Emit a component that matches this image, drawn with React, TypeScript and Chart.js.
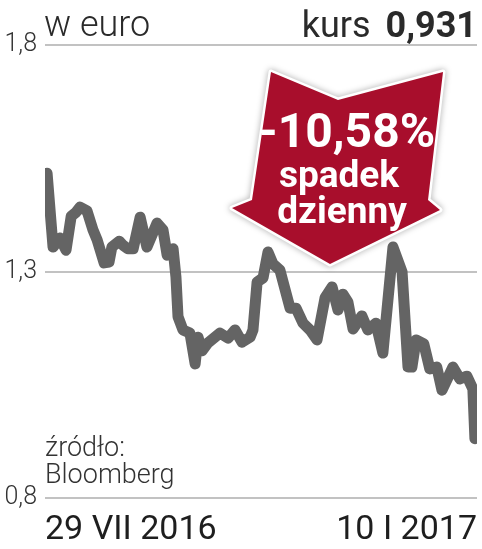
import React, { useEffect, useRef } from "react";
import { Chart, registerables } from "chart.js";

Chart.register(...registerables);

// days since 29 VII 2016
const days = [
  0, 2.3, 5, 7.3, 9.3, 11.2, 12.7, 15.4, 17.7, 19.3, 22, 23.9, 25, 27.8, 29.3, 31.2, 33.2, 35.9, 38.5, 40.5,
  42.4, 44.7, 46.3, 48.6, 49.7, 50.5, 52.4, 55.1, 57.1, 58.2, 59.8, 62, 66.7, 69.8, 72.5, 75.2, 78.3, 79.4, 81, 83.3,
  85.2, 87.1, 89.8, 93.7, 96, 98.7, 101.4, 104.1, 107.2, 109.9, 112.2, 114.1, 116, 118, 121.4, 123.7, 126.8, 129.5, 133.4, 136.9,
  139.2, 140.7, 142.3, 145.3, 147.6, 150.3, 152.3, 156.5, 159.2, 161.9, 164.2, 165,
];
const rates = [
  1.517, 1.354, 1.374, 1.347, 1.422, 1.431, 1.442, 1.434, 1.392, 1.37, 1.319, 1.321, 1.354, 1.367, 1.358, 1.35, 1.35, 1.42, 1.354, 1.381,
  1.407, 1.392, 1.336, 1.35, 1.288, 1.2, 1.171, 1.164, 1.096, 1.155, 1.125, 1.142, 1.164, 1.153, 1.171, 1.144, 1.155, 1.171, 1.277, 1.286,
  1.343, 1.317, 1.303, 1.219, 1.219, 1.186, 1.171, 1.149, 1.242, 1.266, 1.215, 1.25, 1.233, 1.173, 1.202, 1.171, 1.186, 1.12, 1.354, 1.299,
  1.089, 1.089, 1.149, 1.14, 1.085, 1.089, 1.038, 1.089, 1.063, 1.069, 1.041, 0.931,
];
const yTicks = [0.8, 1.3, 1.8];
const xTickLabels = ["29 VII 2016", "10 I 2017"];
const xRange = [-0.8, 165.8];
const unitLabel = "w euro";
const kursLabel = "kurs";
const kursValue = "0,931";
const changeLabel = "-10,58%";
const changeLines = ["spadek", "dzienny"];
const sourceLines = ["źródło:", "Bloomberg"];

const FONT = "Roboto, 'Noto Sans', sans-serif";

const overlay = {
  id: "overlay",
  afterDatasetsDraw(chart: any) {
    const ctx = chart.ctx as CanvasRenderingContext2D;
    const a = chart.chartArea;
    ctx.save();
    // header texts
    ctx.fillStyle = "#2a2a2a";
    ctx.textBaseline = "alphabetic";
    ctx.textAlign = "left";
    ctx.font = `300 36px ${FONT}`;
    ctx.fillText(unitLabel, a.left - 1, 36);
    ctx.textAlign = "right";
    ctx.font = `bold 36px ${FONT}`;
    ctx.fillText(kursValue, a.right, 37);
    const vw = ctx.measureText(kursValue).width;
    ctx.font = `400 36px ${FONT}`;
    ctx.fillText(kursLabel, a.right - vw - 15, 37);
    // source
    ctx.textAlign = "left";
    ctx.font = `300 27px ${FONT}`;
    ctx.fillStyle = "#333";
    ctx.fillText(sourceLines[0], a.left, 456);
    ctx.fillText(sourceLines[1], a.left, 483);

    // arrow
    const pts = [
      [271, 72], [338, 100], [443, 72], [428, 200], [440, 210], [330, 264], [232, 208], [252, 200],
    ];
    ctx.beginPath();
    pts.forEach(([x, y], i) => (i ? ctx.lineTo(x, y) : ctx.moveTo(x, y)));
    ctx.closePath();
    ctx.shadowColor = "rgba(0,0,0,0.35)";
    ctx.shadowBlur = 6;
    ctx.lineJoin = "round";
    ctx.strokeStyle = "#ffffff";
    ctx.lineWidth = 5;
    ctx.stroke();
    ctx.shadowBlur = 0;
    ctx.shadowColor = "transparent";
    ctx.fillStyle = "#a80e2c";
    ctx.fill();
    ctx.fillStyle = "#ffffff";
    ctx.textAlign = "center";
    ctx.font = `bold 48px ${FONT}`;
    ctx.fillText(changeLabel, 347, 147);
    ctx.font = `bold 37px ${FONT}`;
    ctx.fillText(changeLines[0], 339, 187);
    ctx.fillText(changeLines[1], 342, 223);
    ctx.restore();
  },
};

export default function App() {
  const ref = useRef<HTMLCanvasElement>(null);
  useEffect(() => {
    if (!ref.current) return;
    const chart = new Chart(ref.current, {
      type: "line",
      data: {
        datasets: [
          {
            data: days.map((d, i) => ({ x: d, y: rates[i] })),
            borderColor: "#646464",
            borderWidth: 11,
            pointRadius: 0,
            tension: 0,
            borderJoinStyle: "round",
            borderCapStyle: "round",
          },
        ],
      },
      options: {
        responsive: false,
        animation: false,
        layout: { padding: { top: 45, right: 5, left: 0, bottom: 0 } },
        plugins: { legend: { display: false }, tooltip: { enabled: false } },
        scales: {
          x: {
            type: "linear",
            min: xRange[0],
            max: xRange[1],
            grid: { display: false, drawTicks: false },
            border: { display: false },
            afterBuildTicks: (axis: any) => {
              axis.ticks = [{ value: xRange[0] }, { value: xRange[1] }];
            },
            afterFit: (axis: any) => {
              axis.height = 51;
              axis.paddingLeft = 0;
              axis.paddingRight = 0;
            },
            ticks: {
              align: "inner",
              maxRotation: 0,
              autoSkip: false,
              padding: 12,
              color: "#1e1e1e",
              font: { family: FONT, size: 34, weight: "400" },
              callback: (_v: any, i: number) => xTickLabels[i],
            },
          },
          y: {
            min: 0.8,
            max: 1.8,
            grid: { color: "#c2c2c2", lineWidth: 2, drawTicks: false },
            border: { display: false },
            afterBuildTicks: (axis: any) => {
              axis.ticks = yTicks.map((v) => ({ value: v }));
            },
            afterFit: (axis: any) => {
              axis.width = 45;
            },
            ticks: {
              padding: 8,
              color: "#333",
              font: { family: FONT, size: 25, weight: "300" },
              callback: (v: any) => Number(v).toFixed(1).replace(".", ","),
            },
          },
        },
      },
      plugins: [overlay],
    });
    return () => chart.destroy();
  }, []);
  return (
    <div style={{ position: "absolute", left: 0, top: 0, width: 482, height: 549, background: "#fff" }}>
      <canvas ref={ref} width={482} height={549} />
    </div>
  );
}
